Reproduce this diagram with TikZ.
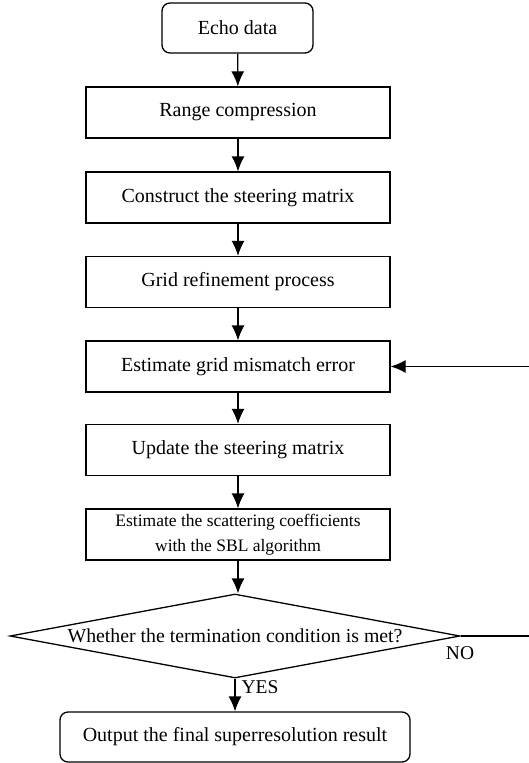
\documentclass[tikz,border=0pt]{standalone}
\usepackage{fontspec}
\setmainfont{Liberation Serif}
\usetikzlibrary{shapes.geometric,arrows.meta}
\begin{document}
\begin{tikzpicture}[x=1pt,y=-1pt,
  box/.style={draw, line width=1.3pt, minimum width=304pt, minimum height=51pt, inner sep=0pt, font=\fontsize{20}{22}\selectfont},
  rbox/.style={box, rounded corners=8pt},
  dec/.style={draw, line width=1.3pt, diamond, aspect=5.36, minimum width=450pt, minimum height=84pt, inner sep=0pt, font=\fontsize{19.8}{22}\selectfont},
  lbl/.style={inner sep=0pt, font=\fontsize{19.5}{22}\selectfont},
  arr/.style={line width=1.3pt, -{Latex[length=15pt,width=13pt]}},
  ln/.style={line width=1.3pt},
]
\useasboundingbox (0,0) rectangle (529,763);
\node[rbox, minimum width=151pt, minimum height=50pt] (echo) at (237.5,28) {Echo data};
\node[box] (range) at (238,112.5) {Range compression};
\node[box] (steer) at (238,197.5) {Construct the steering matrix};
\node[box] (grid) at (238,282) {Grid refinement process};
\node[box] (mis) at (238,366.5) {Estimate grid mismatch error};
\node[box] (upd) at (238,450) {Update the steering matrix};
\node[box, align=center, font=\fontsize{17.5}{25}\selectfont] (sbl) at (238,534.5) {Estimate the scattering coefficients\\with the SBL algorithm};
\node[dec] (cond) at (235,636) {Whether the termination condition is met?};
\node[rbox, minimum width=350pt, minimum height=50pt] (out) at (235,737) {Output the final superresolution result};
\node[lbl] (yes) at (260,687) {YES};
\node[lbl] (no) at (460,653.5) {NO};
\coordinate (fr) at (529,636);
\coordinate (fm) at (529,366.5);
\draw[arr] (echo) -- (range);
\draw[arr] (range) -- (steer);
\draw[arr] (steer) -- (grid);
\draw[arr] (grid) -- (mis);
\draw[arr] (mis) -- (upd);
\draw[arr] (upd) -- (sbl);
\draw[arr] (sbl.south) -- (sbl.south |- cond.north);
\draw[arr] (cond.south) -- (cond.south |- out.north);
\draw[ln] (cond.east) -- (fr);
\draw[arr] (fm) -- (mis.east);
\end{tikzpicture}
\end{document}
